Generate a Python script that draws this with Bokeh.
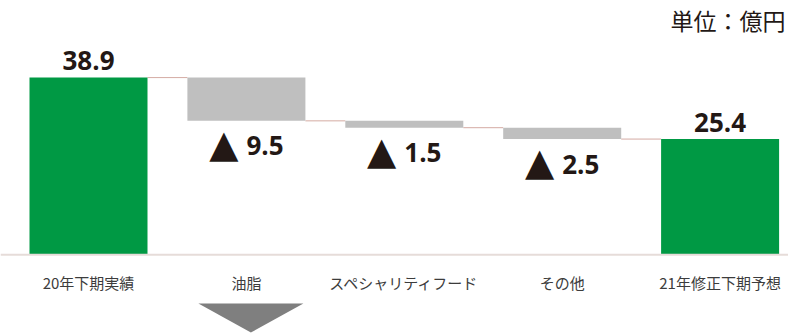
from bokeh.plotting import figure
from bokeh.models import Range1d, ColumnDataSource, Span
from bokeh.core.properties import value
from bokeh.embed import file_html
from bokeh.resources import INLINE

# ---------------- data ----------------
categories = ["20年下期実績", "油脂", "スペシャリティフード", "その他", "21年修正下期予想"]
values = [38.9, -9.5, -1.5, -2.5, 25.4]
kinds = ["total", "delta", "delta", "delta", "total"]
unit_label = "単位：億円"
arrow_category = "油脂"

# ---------------- styling constants ----------------
W, H = 788, 333
PX_PER_X = 157.9          # pixels between category centres
X0_PX = 88.0              # pixel position of first category centre
PX_PER_Y = 4.57           # pixels per 億円
TITLE_H = 35.0            # height of title panel
BASE_PX = 254.0 - TITLE_H # baseline distance from frame top
FRAME_H = H - TITLE_H
BAR_W = 118.0 / PX_PER_X
TXT_SHIFT = -12           # calibration of alphabetic baseline

GREEN = "#009944"
GRAY = "#bfbfbf"
TXT = "#231815"

# ---------------- waterfall geometry from data ----------------
xs = list(range(len(categories)))
bottoms, tops, colors = [], [], []
levels = []
running = 0.0
for v, k in zip(values, kinds):
    if k == "total":
        bottoms.append(0.0)
        tops.append(v)
        running = v
        colors.append(GREEN)
    else:
        new = running + v
        bottoms.append(min(running, new))
        tops.append(max(running, new))
        running = new
        colors.append(GRAY)
    levels.append(running)

bars = ColumnDataSource(dict(x=xs, bottom=bottoms, top=tops, color=colors))

# connectors between consecutive bars
cx0 = [xs[i] + BAR_W / 2 for i in range(len(xs) - 1)]
cx1 = [xs[i + 1] - BAR_W / 2 for i in range(len(xs) - 1)]
cy = [levels[i] for i in range(len(xs) - 1)]

# labels
tot_idx = [i for i, k in enumerate(kinds) if k == "total"]
del_idx = [i for i, k in enumerate(kinds) if k == "delta"]
tot_src = ColumnDataSource(dict(x=[xs[i] for i in tot_idx],
                                y=[tops[i] for i in tot_idx],
                                t=[f"{values[i]:.1f}" for i in tot_idx]))
del_src = ColumnDataSource(dict(x=[xs[i] for i in del_idx],
                                y=[bottoms[i] for i in del_idx],
                                t=[f"{abs(values[i]):.1f}" for i in del_idx],
                                tri=["▲" if values[i] < 0 else "△" for i in del_idx]))
cat_src = ColumnDataSource(dict(x=xs, y=[0.0] * len(xs), t=categories))

# ---------------- figure ----------------
x_start = -X0_PX / PX_PER_X
y_end = BASE_PX / PX_PER_Y
y_start = -(FRAME_H - BASE_PX) / PX_PER_Y

p = figure(width=W, height=H, output_backend="svg", toolbar_location=None,
           x_range=Range1d(x_start, x_start + W / PX_PER_X),
           y_range=Range1d(y_start, y_end),
           x_axis_location=None, y_axis_location=None,
           min_border=0, title=unit_label)
p.title.align = "right"
p.title.text_font = "Noto Sans CJK JP"
p.title.text_font_size = "23px"
p.title.text_font_style = "normal"
p.title.text_color = TXT
p.title.standoff = 0
p.title.offset = 3
p.outline_line_color = None
p.xgrid.visible = False
p.ygrid.visible = False
p.background_fill_color = "white"
p.border_fill_color = "white"

# baseline
p.add_layout(Span(location=0, dimension="width", line_color="#e6dcd9", line_width=2))

# connectors
p.segment(x0=cx0, y0=cy, x1=cx1, y1=cy, line_color="#d4aba3", line_width=1)

# bars
p.vbar(x="x", bottom="bottom", top="top", width=BAR_W, fill_color="color",
       line_color=None, source=bars)

# total labels
p.text(x="x", y="y", text="t", source=tot_src, text_align="center",
       text_baseline="alphabetic", y_offset=-5 + TXT_SHIFT, text_font=value("Open Sans"),
       text_font_style="bold", text_font_size="26px", text_color=TXT)

# delta labels (triangle + number)
p.text(x="x", y="y", text="tri", source=del_src, text_align="right",
       text_baseline="alphabetic", x_offset=-8, y_offset=37 + TXT_SHIFT - 2,
       text_font=value("DejaVu Sans"), text_font_size="38px", text_color=TXT)
p.text(x="x", y="y", text="t", source=del_src, text_align="left",
       text_baseline="alphabetic", x_offset=0, y_offset=37 + TXT_SHIFT,
       text_font=value("Open Sans"), text_font_style="bold",
       text_font_size="26px", text_color=TXT)

# category labels
p.text(x="x", y="y", text="t", source=cat_src, text_align="center",
       text_baseline="middle", y_offset=28, text_font=value("Noto Sans CJK JP"),
       text_font_size="15px", text_color="#3c3c3c")

# arrow below the oil category
ai = categories.index(arrow_category) + 4.5 / PX_PER_X
half = 52.5 / PX_PER_X
top_y = -49 / PX_PER_Y
tip_y = -78 / PX_PER_Y
p.patch(x=[ai - half, ai + half, ai], y=[top_y, top_y, tip_y],
        fill_color="#7f7f7f", line_color=None)

open("out.html", "w").write(file_html(p, INLINE))
